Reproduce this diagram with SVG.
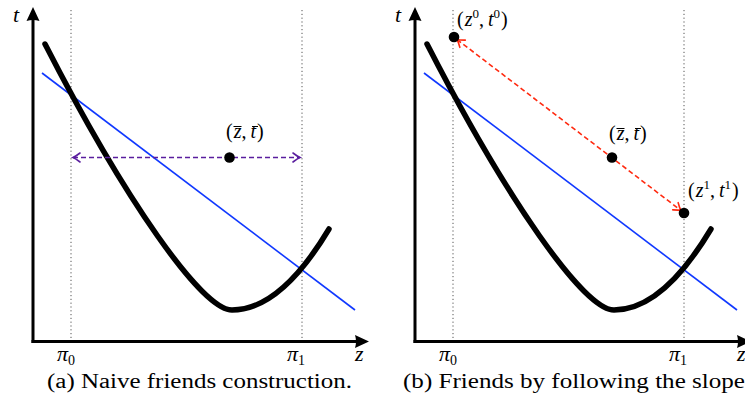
<svg xmlns="http://www.w3.org/2000/svg" width="745" height="400" viewBox="0 0 745 400">
<style>
.axis{stroke:#000;stroke-width:3;fill:none}
.head{fill:#000}
.guide{stroke:#555;stroke-width:1;stroke-dasharray:1.2 2.6;fill:none}
.curve{stroke:#000;stroke-width:5.5;fill:none;stroke-linecap:round}
.slope{stroke:#1038ff;stroke-width:1.6;fill:none}
.dot{fill:#000}
.bar{stroke:#000;stroke-width:1}
.purple{stroke:#5a1e9e;stroke-width:1.6;stroke-dasharray:5 3;fill:none}
.red{stroke:#ff2a10;stroke-width:1.6;stroke-dasharray:5 3;fill:none}
</style>
<defs>
<marker id="pArrow" markerUnits="userSpaceOnUse" markerWidth="14" markerHeight="14" viewBox="-10 -7 12 14" refX="0" refY="0" orient="auto-start-reverse">
<path d="M-7,-4.5 Q-2.5,-1 0,0 Q-2.5,1 -7,4.5" fill="none" stroke="#5a1e9e" stroke-width="1.6" stroke-linecap="round"/>
</marker>
<marker id="rArrow" markerUnits="userSpaceOnUse" markerWidth="14" markerHeight="14" viewBox="-10 -7 12 14" refX="0" refY="0" orient="auto-start-reverse">
<path d="M-7,-4.5 Q-2.5,-1 0,0 Q-2.5,1 -7,4.5" fill="none" stroke="#ff2a10" stroke-width="1.6" stroke-linecap="round"/>
</marker>
</defs>

<g id="panel-a">
<line class="guide" x1="71" y1="10" x2="71" y2="340"/>
<line class="guide" x1="302" y1="10" x2="302" y2="340"/>
<line class="slope" x1="42" y1="73" x2="355" y2="310"/>
<path class="curve" d="M45,44 C125,200 202,310 232,310 Q280.5,310 329,229"/>
<line class="axis" x1="33" y1="343" x2="33" y2="18"/>
<path class="head" d="M33,7 L39.5,21 Q33,19 26.5,21 Z"/>
<line class="axis" x1="31.5" y1="341.5" x2="358" y2="341.5"/>
<path class="head" d="M369,341.5 L355,335 Q357,341.5 355,348 Z"/>
<text x="13" y="22" font-size="22" font-family="Liberation Serif, serif" font-style="italic">t</text>
<text x="57" y="361" font-size="22" font-family="Liberation Serif, serif" font-style="italic">π<tspan font-style="normal" font-size="14" dy="4">0</tspan></text>
<text x="287" y="361" font-size="22" font-family="Liberation Serif, serif" font-style="italic">π<tspan font-style="normal" font-size="14" dy="4">1</tspan></text>
<text x="355" y="361" font-size="22" font-family="Liberation Serif, serif" font-style="italic">z</text>
</g>
<g id="connectors-a">
<line class="purple" x1="73" y1="157.5" x2="300" y2="157.5" marker-start="url(#pArrow)" marker-end="url(#pArrow)"/>
</g>
<g id="node-zbar-a">
<circle class="dot" cx="229.5" cy="157.5" r="5.3"/>
<text x="226" y="138" font-size="20" font-family="Liberation Serif, serif">(<tspan font-style="italic" dx="1">z</tspan>,<tspan font-style="italic" dx="4">t</tspan><tspan dx="1">)</tspan></text>
<line class="bar" x1="233.5" y1="126.5" x2="241.5" y2="126.5"/>
<line class="bar" x1="252" y1="126.5" x2="258" y2="126.5"/>
</g>
<text id="caption-a" x="47" y="388" font-size="20" font-family="Liberation Serif, serif" textLength="305" lengthAdjust="spacingAndGlyphs">(a) Naive friends construction.</text>

<g id="panel-b">
<line class="guide" x1="453" y1="10" x2="453" y2="340"/>
<line class="guide" x1="684" y1="10" x2="684" y2="340"/>
<line class="slope" x1="424" y1="73" x2="737" y2="310"/>
<path class="curve" d="M427,44 C507,200 584,310 614,310 Q662.5,310 711,229"/>
<line class="axis" x1="415" y1="343" x2="415" y2="18"/>
<path class="head" d="M415,7 L421.5,21 Q415,19 408.5,21 Z"/>
<line class="axis" x1="413.5" y1="341.5" x2="740" y2="341.5"/>
<path class="head" d="M751,341.5 L737,335 Q739,341.5 737,348 Z"/>
<text x="395" y="22" font-size="22" font-family="Liberation Serif, serif" font-style="italic">t</text>
<text x="439" y="361" font-size="22" font-family="Liberation Serif, serif" font-style="italic">π<tspan font-style="normal" font-size="14" dy="4">0</tspan></text>
<text x="669" y="361" font-size="22" font-family="Liberation Serif, serif" font-style="italic">π<tspan font-style="normal" font-size="14" dy="4">1</tspan></text>
<text x="737" y="361" font-size="22" font-family="Liberation Serif, serif" font-style="italic">z</text>
</g>
<g id="connectors-b">
<line class="red" x1="457" y1="39.5" x2="681" y2="210.5" marker-start="url(#rArrow)" marker-end="url(#rArrow)"/>
</g>
<g id="node-z0">
<circle class="dot" cx="454" cy="37" r="5.3"/>
<text x="457" y="26" font-size="20" font-family="Liberation Serif, serif">(<tspan font-style="italic" dx="1">z</tspan><tspan font-size="13" dy="-8">0</tspan><tspan dy="8">,</tspan><tspan font-style="italic" dx="4">t</tspan><tspan font-size="13" dy="-8">0</tspan><tspan dy="8" dx="1">)</tspan></text>
</g>
<g id="node-zbar-b">
<circle class="dot" cx="612" cy="157.5" r="5.3"/>
<text x="609" y="140" font-size="20" font-family="Liberation Serif, serif">(<tspan font-style="italic" dx="1">z</tspan>,<tspan font-style="italic" dx="4">t</tspan><tspan dx="1">)</tspan></text>
<line class="bar" x1="616.5" y1="128.5" x2="624.5" y2="128.5"/>
<line class="bar" x1="635" y1="128.5" x2="641" y2="128.5"/>
</g>
<g id="node-z1">
<circle class="dot" cx="684" cy="213" r="5.3"/>
<text x="688" y="197" font-size="20" font-family="Liberation Serif, serif">(<tspan font-style="italic" dx="1">z</tspan><tspan font-size="13" dy="-8">1</tspan><tspan dy="8">,</tspan><tspan font-style="italic" dx="4">t</tspan><tspan font-size="13" dy="-8">1</tspan><tspan dy="8" dx="1">)</tspan></text>
</g>
<text id="caption-b" x="403" y="388" font-size="20" font-family="Liberation Serif, serif" textLength="342" lengthAdjust="spacingAndGlyphs">(b) Friends by following the slope</text>
</svg>
